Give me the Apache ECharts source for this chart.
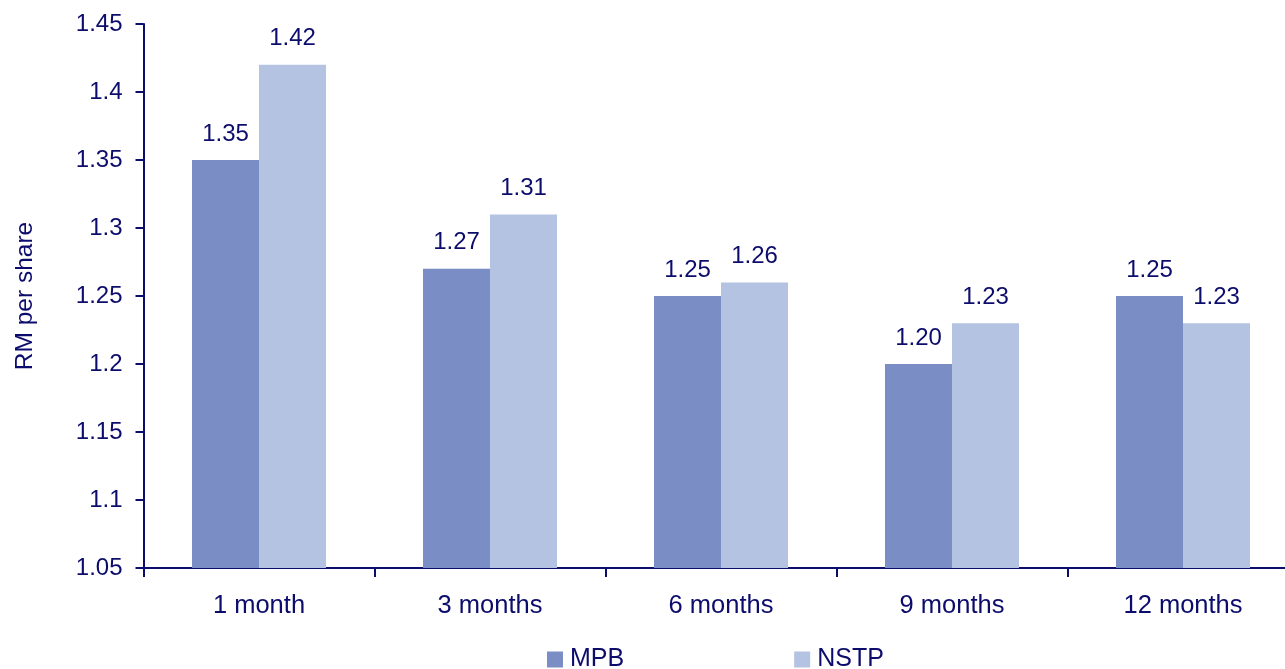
<!DOCTYPE html>
<html>
<head>
<meta charset="utf-8">
<script src="https://cdn.jsdelivr.net/npm/echarts@6/dist/echarts.min.js"></script>
<style>
html,body{margin:0;padding:0;background:#fff;}
#chart{width:1285px;height:669px;}
</style>
</head>
<body>
<div id="chart"></div>
<script>
const categories = ["1 month", "3 months", "6 months", "9 months", "12 months"];
const mpbValues = [1.35, 1.27, 1.25, 1.20, 1.25];
const nstpValues = [1.42, 1.31, 1.26, 1.23, 1.23];
const seriesNames = ["MPB", "NSTP"];
const yAxisName = "RM per share";

const navy = "#0c0c6c";
const font = "Liberation Sans, Arial, sans-serif";

const chart = echarts.init(document.getElementById("chart"));
const labelCfg = {
  show: true,
  position: "top",
  distance: 14,
  color: navy,
  fontFamily: font,
  fontSize: 24,
  formatter: p => p.value.toFixed(2)
};
chart.setOption({
  animation: false,
  backgroundColor: "#ffffff",
  grid: { left: 143.5, width: 1155, top: 24, bottom: 101, containLabel: false, outerBoundsMode: "none" },
  legend: {
    data: seriesNames,
    left: 542,
    top: 642,
    itemWidth: 16,
    itemHeight: 16,
    itemGap: 170,
    icon: "rect",
    textStyle: { color: navy, fontFamily: font, fontSize: 25, padding: [0, 0, 0, 2] }
  },
  xAxis: {
    type: "category",
    data: categories,
    axisLine: { lineStyle: { color: navy, width: 2 } },
    axisTick: { show: true, length: 9, lineStyle: { color: navy, width: 2 } },
    axisLabel: { color: navy, fontFamily: font, fontSize: 25.5, margin: 25 },
    splitLine: { show: false }
  },
  yAxis: {
    type: "value",
    min: 1.05,
    max: 1.45,
    interval: 0.05,
    name: yAxisName,
    nameLocation: "middle",
    nameGap: 106,
    nameTextStyle: { color: navy, fontFamily: font, fontSize: 24.5 },
    axisLine: { show: true, lineStyle: { color: navy, width: 2 } },
    axisTick: { show: true, length: 8, lineStyle: { color: navy, width: 2 } },
    axisLabel: { color: navy, fontFamily: font, fontSize: 24, margin: 21 },
    splitLine: { show: false }
  },
  series: [
    {
      name: seriesNames[0],
      type: "bar",
      data: mpbValues,
      barGap: "0%",
      barCategoryGap: "42%",
      itemStyle: { color: "#7a8dc5" },
      label: labelCfg
    },
    {
      name: seriesNames[1],
      type: "bar",
      data: nstpValues,
      barGap: "0%",
      barCategoryGap: "42%",
      itemStyle: { color: "#b4c3e2" },
      label: labelCfg
    }
  ]
});
</script>
</body>
</html>
